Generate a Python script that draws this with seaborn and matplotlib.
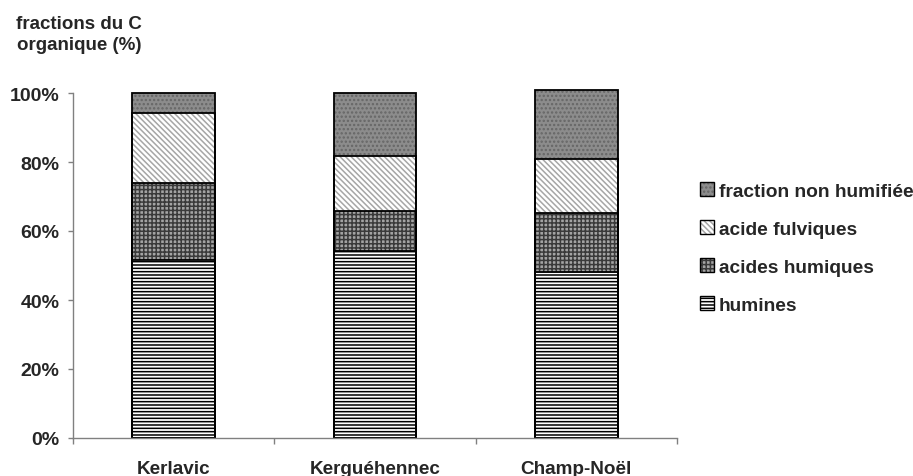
import matplotlib
matplotlib.use("Agg")
import matplotlib.pyplot as plt
import pandas as pd
import seaborn as sns
from matplotlib.patches import Patch
from matplotlib.ticker import FixedLocator

# data (percent of organic C)
sites = ['Kerlavic', 'Kerguéhennec', 'Champ-Noël']
humines = [51.7, 54.1, 48.2]
acides_humiques = [22.2, 11.8, 16.9]
acide_fulviques = [20.2, 15.9, 15.8]
non_humifiee = [5.9, 18.2, 20.1]
yticks = [0, 20, 40, 60, 80, 100]

fractions = ['humines', 'acides humiques', 'acide fulviques', 'fraction non humifiée']
df = pd.DataFrame({'humines': humines,
                   'acides humiques': acides_humiques,
                   'acide fulviques': acide_fulviques,
                   'fraction non humifiée': non_humifiee}, index=sites)
cum = df.cumsum(axis=1)

styles = {
    'humines': dict(face='white', hatch='-----', hc='black'),
    'acides humiques': dict(face='#a4a4a4', hatch='++++', hc='#3a3a3a'),
    'acide fulviques': dict(face='white', hatch='\\\\\\\\\\\\', hc='#a6a6a6'),
    'fraction non humifiée': dict(face='#8c8c8c', hatch='....', hc='#666666'),
}

sns.set_style('white')
plt.rcParams['font.family'] = ['Liberation Sans', 'DejaVu Sans']
plt.rcParams['font.weight'] = 'bold'
plt.rcParams['hatch.linewidth'] = 1.1

fig = plt.figure(figsize=(9.13, 4.77), dpi=100)
ax = fig.add_axes([73 / 913, 38 / 477, 604 / 913, 345 / 477])

# cumulative stacking: draw the tallest first, lower layers cover it
for f in reversed(fractions):
    st = styles[f]
    sns.barplot(x=sites, y=cum[f].values, order=sites, color=st['face'], saturation=1,
                hatch=st['hatch'], edgecolor=st['hc'], linewidth=0, width=0.41, ax=ax)
for f in fractions:
    sns.barplot(x=sites, y=cum[f].values, order=sites, fill=False, color='black',
                linewidth=1.3, width=0.41, ax=ax)
for p in ax.patches:
    p.set_clip_on(False)

ax.set_xlim(-0.5, 2.5)
ax.set_ylim(0, 100)
ax.set_xlabel('')
ax.set_ylabel('')
for s in ['top', 'right']:
    ax.spines[s].set_visible(False)
for s in ['left', 'bottom']:
    ax.spines[s].set_color('#808080')
    ax.spines[s].set_linewidth(1)

ax.set_yticks(yticks)
ax.set_yticklabels([f'{v}%' for v in yticks])
ax.tick_params(axis='y', length=3.8, width=1, color='#808080', pad=6, labelsize=14, left=True)
ax.xaxis.set_minor_locator(FixedLocator([-0.5, 0.5, 1.5, 2.5]))
ax.tick_params(axis='x', which='major', length=0, pad=15.5, labelsize=13.6)
ax.tick_params(axis='x', which='minor', length=4.3, width=1, color='#808080', bottom=True)
for t in ax.get_xticklabels() + ax.get_yticklabels():
    t.set_fontweight('bold')

fig.text(79 / 913, 1 - 16 / 477, 'fractions du C\norganique (%)', ha='center', va='top',
         fontsize=13.5, fontweight='bold', linespacing=1.3)

handles = []
for f in reversed(fractions):
    st = styles[f]
    handles.append((Patch(facecolor=st['face'], hatch=st['hatch'], edgecolor=st['hc'], linewidth=0),
                    Patch(facecolor='none', edgecolor='black', linewidth=1)))
fig.legend(handles, list(reversed(fractions)), loc='upper left',
           bbox_to_anchor=(700 / 913, 1 - 183 / 477), frameon=False, borderpad=0,
           borderaxespad=0, handlelength=0.72, handleheight=0.72, handletextpad=0.25,
           labelspacing=1.07, prop=dict(size=13.8, weight='bold'))

fig.savefig('out.png', dpi=100)
